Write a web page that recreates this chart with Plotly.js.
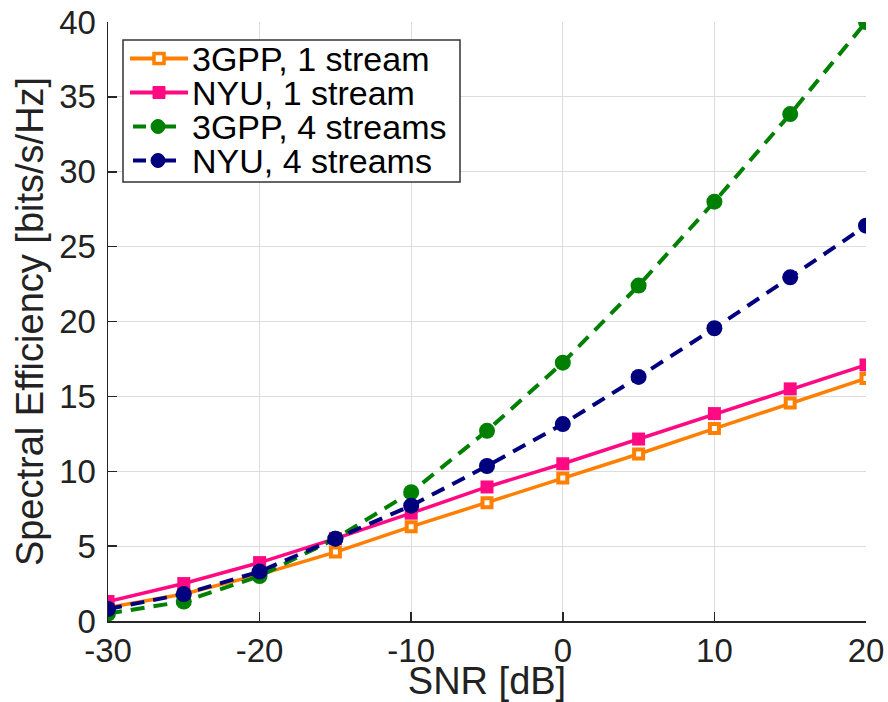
<!DOCTYPE html>
<html>
<head>
<meta charset="utf-8">
<script src="https://cdn.plot.ly/plotly-3.0.1.min.js"></script>
<style>html,body{margin:0;padding:0;background:#fff}#chart{width:888px;height:702px}</style>
</head>
<body>
<div id="chart"></div>
<script>
const snr = [-30, -25, -20, -15, -10, -5, 0, 5, 10, 15, 20];
const gpp1 = [0.9, 1.8, 3.1, 4.6, 6.3, 7.9, 9.55, 11.15, 12.85, 14.55, 16.2];
const nyu1 = [1.3, 2.5, 3.9, 5.5, 7.2, 8.95, 10.5, 12.15, 13.85, 15.5, 17.1];
const gpp4 = [0.5, 1.3, 3.0, 5.5, 8.6, 12.7, 17.25, 22.4, 28.0, 33.85, 40.0];
const nyu4 = [0.8, 1.8, 3.3, 5.5, 7.7, 10.35, 13.15, 16.3, 19.55, 22.95, 26.4];
const names = ["3GPP, 1 stream", "NYU, 1 stream", "3GPP, 4 streams", "NYU, 4 streams"];
const colors = ["#ff7f00", "#ff0a83", "#008000", "#00007f"];

const W = 888, H = 702;
const M = {l: 108, r: 22, t: 22, b: 81};
const PW = W - M.l - M.r, PH = H - M.t - M.b;
const px = x => (x - M.l) / PW;          // pixel -> paper x
const py = y => (H - M.b - y) / PH;      // pixel -> paper y

const traces = [
  {x: snr, y: gpp1, name: names[0], mode: "lines+markers",
   line: {color: colors[0], width: 3.5},
   marker: {symbol: "square", size: 9, color: "#ffffff", line: {color: colors[0], width: 4}}},
  {x: snr, y: nyu1, name: names[1], mode: "lines+markers",
   line: {color: colors[1], width: 3.5},
   marker: {symbol: "square", size: 13, color: colors[1]}},
  {x: snr, y: gpp4, name: names[2], mode: "lines+markers",
   line: {color: colors[2], width: 4, dash: "14px,9px"},
   marker: {symbol: "circle", size: 16, color: colors[2]}},
  {x: snr, y: nyu4, name: names[3], mode: "lines+markers",
   line: {color: colors[3], width: 4, dash: "14px,9px"},
   marker: {symbol: "circle", size: 16, color: colors[3]}}
];

// Hand-drawn legend (tighter rows than Plotly's native legend allows)
const rowY = [58.5, 92.5, 126.5, 160.5];
const shapes = [
  {type: "rect", xref: "paper", yref: "paper", x0: px(123), x1: px(460), y0: py(40), y1: py(182),
   fillcolor: "#ffffff", line: {color: "#333333", width: 1.5}, layer: "above"}
];
const annotations = [];
rowY.forEach((ry, i) => {
  const dashed = i >= 2;
  if (dashed) {
    shapes.push({type: "line", xref: "paper", yref: "paper", x0: px(133), x1: px(146), y0: py(ry), y1: py(ry),
      line: {color: colors[i], width: 4}, layer: "above"});
    shapes.push({type: "line", xref: "paper", yref: "paper", x0: px(160), x1: px(176), y0: py(ry), y1: py(ry),
      line: {color: colors[i], width: 4}, layer: "above"});
    shapes.push({type: "circle", xref: "paper", yref: "paper", x0: px(151), x1: px(165), y0: py(ry - 7), y1: py(ry + 7),
      fillcolor: colors[i], line: {color: colors[i], width: 1}, layer: "above"});
  } else {
    shapes.push({type: "line", xref: "paper", yref: "paper", x0: px(130), x1: px(188), y0: py(ry), y1: py(ry),
      line: {color: colors[i], width: 4}, layer: "above"});
    if (i === 0) {
      shapes.push({type: "rect", xref: "paper", yref: "paper", x0: px(154), x1: px(164), y0: py(ry - 5), y1: py(ry + 5),
        fillcolor: "#ffffff", line: {color: colors[i], width: 3.5}, layer: "above"});
    } else {
      shapes.push({type: "rect", xref: "paper", yref: "paper", x0: px(153), x1: px(165), y0: py(ry - 6), y1: py(ry + 6),
        fillcolor: colors[i], line: {color: colors[i], width: 1}, layer: "above"});
    }
  }
  annotations.push({xref: "paper", yref: "paper", x: px(190), y: py(ry + 1), xanchor: "left", yanchor: "middle",
    text: names[i], showarrow: false, font: {size: 34, color: "#000"}});
});

const layout = {
  width: W, height: H,
  margin: M,
  paper_bgcolor: "#ffffff", plot_bgcolor: "#ffffff",
  font: {family: "Liberation Sans, Arial, sans-serif", size: 33, color: "#222"},
  showlegend: false,
  shapes: shapes,
  annotations: annotations,
  xaxis: {
    range: [-30, 20], tickvals: [-30, -20, -10, 0, 10, 20],
    ticktext: ["-30", "-20", "-10", "0", "10", "20"],
    showgrid: true, gridcolor: "#dddddd", gridwidth: 1.2,
    zeroline: false, showline: true, linecolor: "#262626", linewidth: 1.5,
    ticks: "inside", ticklen: 9, tickwidth: 1.5, tickcolor: "#262626",
    tickfont: {size: 33, color: "#222"},
    title: {text: "SNR [dB]", font: {size: 38, color: "#222"}, standoff: 2}
  },
  yaxis: {
    range: [0, 40], tickvals: [0, 5, 10, 15, 20, 25, 30, 35, 40],
    showgrid: true, gridcolor: "#dddddd", gridwidth: 1.2,
    zeroline: false, showline: true, linecolor: "#262626", linewidth: 1.5,
    ticks: "inside", ticklen: 9, tickwidth: 1.5, tickcolor: "#262626",
    tickfont: {size: 33, color: "#222"}, ticklabelstandoff: 4,
    title: {text: "Spectral Efficiency [bits/s/Hz]", font: {size: 38, color: "#222"}, standoff: 4}
  }
};

Plotly.newPlot("chart", traces, layout, {displayModeBar: false, staticPlot: true});
</script>
</body>
</html>
